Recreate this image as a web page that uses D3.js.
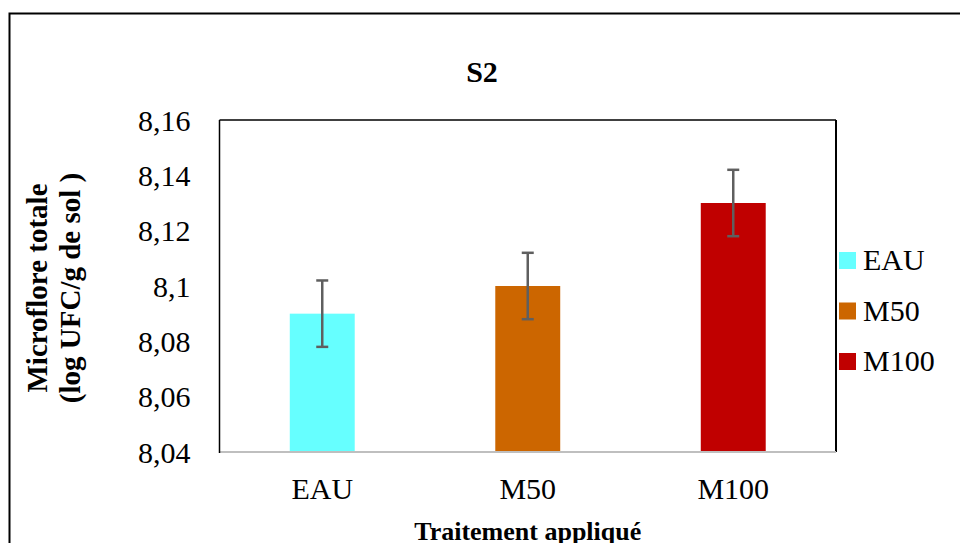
<!DOCTYPE html>
<html>
<head>
  <meta charset="utf-8">
  <title>S2</title>
  <style>
    body { margin: 0; background: #fff; }
    svg text { font-family: "Liberation Serif", "Times New Roman", serif; fill: #000; }
  </style>
</head>
<body>
  <svg id="chart" width="960" height="543"></svg>

  <script src="https://cdn.jsdelivr.net/npm/d3@7/dist/d3.min.js"></script>
  <script>
    // data
    var categories = ['EAU', 'M50', 'M100'];
    var means = [8.09, 8.10, 8.13];
    var errors = [0.012, 0.012, 0.012];
    var colors = ['#66FFFF', '#CC6600', '#C00000'];
    var yTicks = [8.04, 8.06, 8.08, 8.10, 8.12, 8.14, 8.16];
    var yTickLabels = ['8,04', '8,06', '8,08', '8,1', '8,12', '8,14', '8,16'];

    var plot = { left: 219.5, right: 836, top: 120, bottom: 452 };

    var svg = d3.select('#chart');

    // outer frame (runs off the right and bottom edges)
    svg.append('rect')
      .attr('x', 9.5)
      .attr('y', 13.5)
      .attr('width', 1000)
      .attr('height', 600)
      .attr('fill', 'none')
      .attr('stroke', '#000')
      .attr('stroke-width', 2);

    var x = d3.scaleBand()
      .domain(categories)
      .range([plot.left, plot.right])
      .paddingInner(0.684)
      .paddingOuter(0.342);

    var y = d3.scaleLinear()
      .domain([8.04, 8.16])
      .range([plot.bottom, plot.top]);

    var data = categories.map((c, i) => ({ name: c, value: means[i], err: errors[i], color: colors[i] }));

    // bars
    svg.selectAll('rect.bar')
      .data(data)
      .enter()
      .append('rect')
      .attr('class', 'bar')
      .attr('x', d => x(d.name))
      .attr('y', d => y(d.value))
      .attr('width', x.bandwidth())
      .attr('height', d => y(8.04) - y(d.value))
      .attr('fill', d => d.color);

    // error bars
    var eb = svg.selectAll('g.err')
      .data(data)
      .enter()
      .append('g')
      .attr('class', 'err')
      .attr('stroke', '#5f5f5f')
      .attr('stroke-width', 2.5);

    eb.append('line')
      .attr('x1', d => x(d.name) + x.bandwidth() / 2)
      .attr('x2', d => x(d.name) + x.bandwidth() / 2)
      .attr('y1', d => y(d.value + d.err))
      .attr('y2', d => y(d.value - d.err));

    [1, -1].forEach(s => {
      eb.append('line')
        .attr('x1', d => x(d.name) + x.bandwidth() / 2 - 6)
        .attr('x2', d => x(d.name) + x.bandwidth() / 2 + 6)
        .attr('y1', d => y(d.value + s * d.err))
        .attr('y2', d => y(d.value + s * d.err));
    });

    // plot frame: black top, right, left; grey bottom axis
    svg.append('line')
      .attr('x1', plot.left).attr('x2', plot.right)
      .attr('y1', plot.top).attr('y2', plot.top)
      .attr('stroke', '#000').attr('stroke-width', 1.5);
    svg.append('line')
      .attr('x1', plot.right).attr('x2', plot.right)
      .attr('y1', plot.top).attr('y2', plot.bottom)
      .attr('stroke', '#000').attr('stroke-width', 2);
    svg.append('line')
      .attr('x1', plot.left).attr('x2', plot.right)
      .attr('y1', plot.bottom).attr('y2', plot.bottom)
      .attr('stroke', '#bfbfbf').attr('stroke-width', 2);
    svg.append('line')
      .attr('x1', plot.left).attr('x2', plot.left)
      .attr('y1', plot.top).attr('y2', plot.bottom + 1)
      .attr('stroke', '#000').attr('stroke-width', 1.5);

    // y axis labels
    var yAxis = svg.append('g')
      .attr('transform', 'translate(' + plot.left + ',0)')
      .call(d3.axisLeft(y)
        .tickValues(yTicks)
        .tickSize(0)
        .tickPadding(29)
        .tickFormat((d, i) => yTickLabels[i]));
    yAxis.select('.domain').remove();
    yAxis.selectAll('text')
      .style('font-family', '"Liberation Serif", serif')
      .style('font-size', '30px')
      .attr('dy', '0.34em');

    // x axis labels
    var xAxis = svg.append('g')
      .attr('transform', 'translate(0,' + plot.bottom + ')')
      .call(d3.axisBottom(x).tickSize(0).tickPadding(26));
    xAxis.select('.domain').remove();
    xAxis.selectAll('text')
      .style('font-family', '"Liberation Serif", serif')
      .style('font-size', '30px');

    // title
    svg.append('text')
      .attr('x', 482)
      .attr('y', 82)
      .attr('text-anchor', 'middle')
      .style('font-size', '30px')
      .style('font-weight', 'bold')
      .text('S2');

    // axis titles
    svg.append('text')
      .attr('x', (plot.left + plot.right) / 2)
      .attr('y', 540)
      .attr('text-anchor', 'middle')
      .style('font-size', '26px')
      .style('font-weight', 'bold')
      .text('Traitement appliqué');

    var yt = svg.append('text')
      .attr('transform', 'translate(0,288) rotate(-90)')
      .attr('text-anchor', 'middle')
      .style('font-size', '29px')
      .style('font-weight', 'bold');
    yt.append('tspan').attr('x', 0).attr('y', 47).text('Microflore totale');
    yt.append('tspan').attr('x', 0).attr('y', 80).text('(log UFC/g de sol )');

    // legend
    var legend = svg.selectAll('g.legend')
      .data(data)
      .enter()
      .append('g')
      .attr('class', 'legend')
      .attr('transform', (d, i) => 'translate(839,' + (252 + i * 50.5) + ')');

    legend.append('rect')
      .attr('width', 17)
      .attr('height', 17)
      .attr('fill', d => d.color);

    legend.append('text')
      .attr('x', 24)
      .attr('y', 18)
      .style('font-size', '30px')
      .text(d => d.name);
  </script>
</body>
</html>
